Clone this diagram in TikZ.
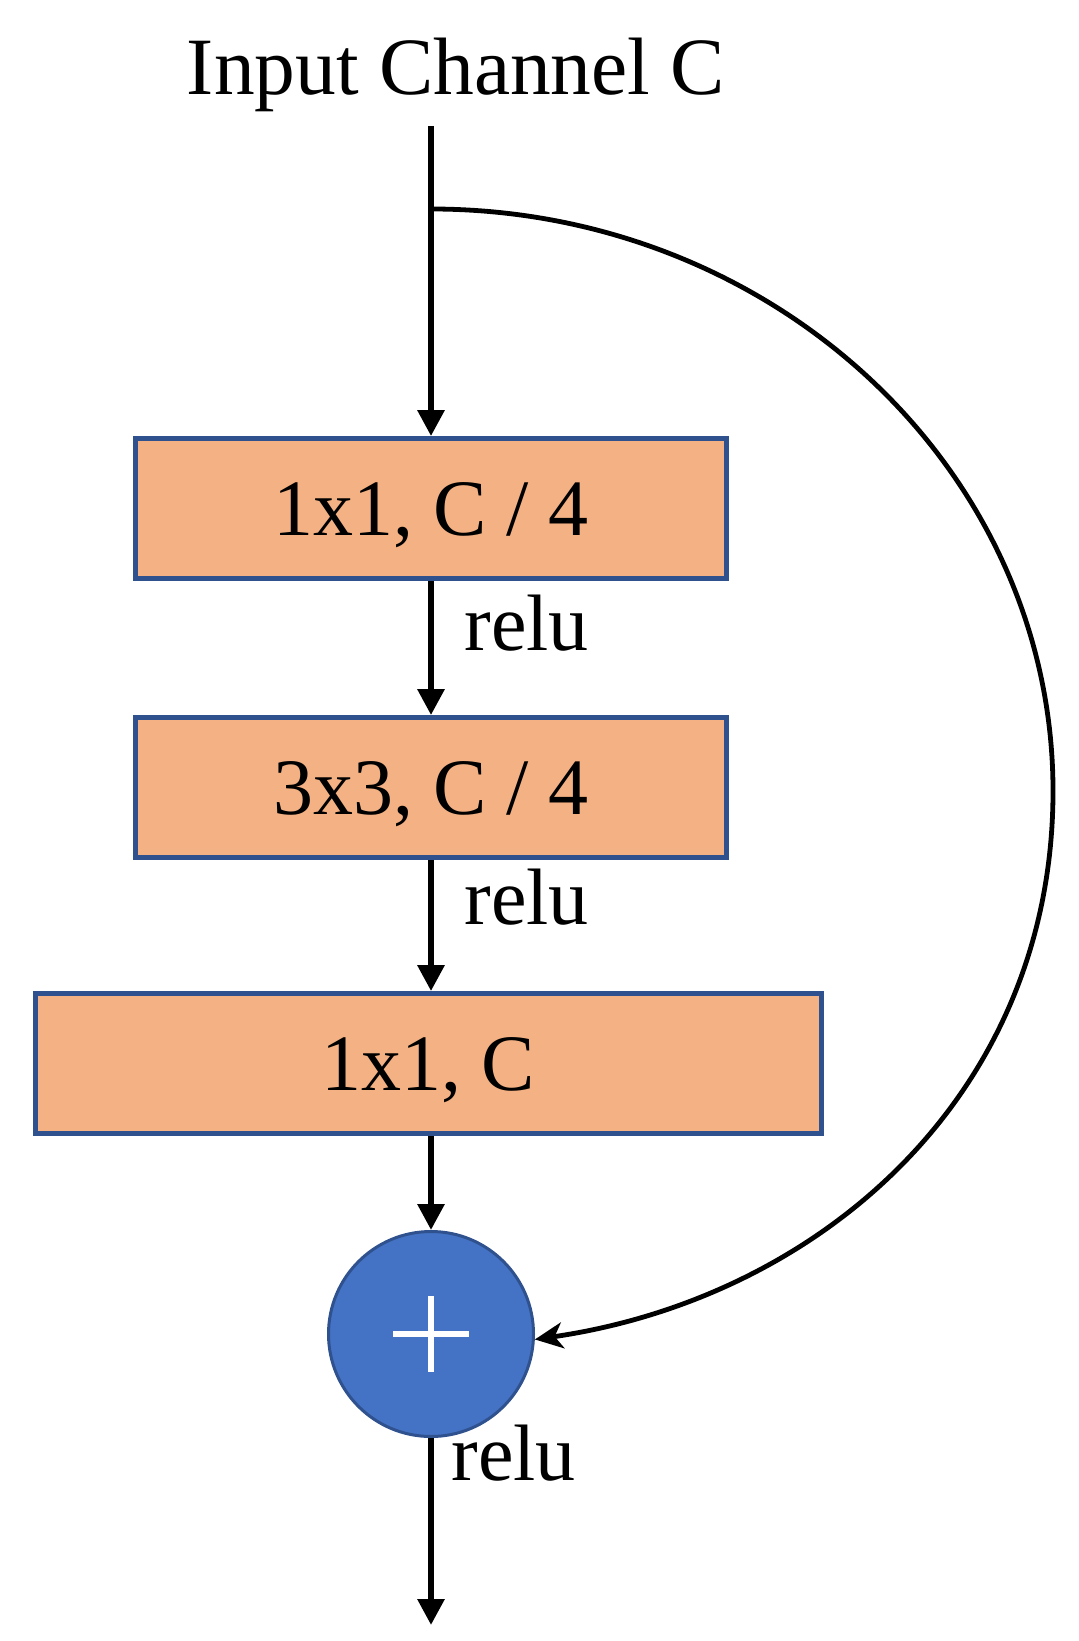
\documentclass[tikz,border=0pt]{standalone}
\usepackage{fontspec}
\setmainfont{Liberation Serif}
\usetikzlibrary{arrows.meta}
\definecolor{boxfill}{HTML}{F4B183}
\definecolor{boxline}{HTML}{2F528F}
\definecolor{sumfill}{HTML}{4472C4}
\begin{document}
\begin{tikzpicture}[x=0.5pt,y=-0.5pt,
  convbox/.style={draw=boxline,fill=boxfill,line width=2.4pt,inner sep=0pt,
    minimum height=70pt,font=\fontsize{40}{48}\selectfont,text height=27pt,text depth=0pt},
  flow/.style={line width=3pt,-{Triangle[length=13pt,width=13pt]}},
  skip/.style={line width=2.4pt,-{Stealth[length=14pt,width=13pt,inset=4pt]}},
  lbl/.style={inner sep=0pt,anchor=base west,font=\fontsize{40}{48}\selectfont},
  sumnode/.style={circle,draw=boxline,fill=sumfill,line width=1.5pt,inner sep=0pt,minimum size=102.5pt}]
\useasboundingbox (0,0) rectangle (1078,1641);
\node[inner sep=0pt,anchor=base,font=\fontsize{40.7}{50}\selectfont] (title) at (456,95) {Input Channel C};
\coordinate (in) at (431,126);
\coordinate (br) at (431,209);
\coordinate (rt) at (1053,791);
\coordinate (out) at (431,1625);
\node[convbox,minimum width=295.6pt] (b1) at (431,508.5) {1x1, C / 4};
\node[convbox,minimum width=295.6pt] (b2) at (431,787.5) {3x3, C / 4};
\node[convbox,minimum width=393.1pt] (b3) at (428.5,1063.5) {1x1, C};
\node[sumnode] (sum) at (431,1334) {};
\draw[white,line width=3.2pt] ([xshift=-19pt]sum.center) -- ([xshift=19pt]sum.center);
\draw[white,line width=3.2pt] ([yshift=19pt]sum.center) -- ([yshift=-19pt]sum.center);
\node[lbl] (r1) at (464,650) {relu};
\node[lbl] (r2) at (464,924) {relu};
\node[lbl] (r3) at (451,1480) {relu};
\draw[flow] (in) -- (b1.north);
\draw[flow] (b1.south) -- (b2.north);
\draw[flow] (b2.south) -- (b2.south |- b3.north);
\draw[flow] (b3.south -| sum.north) -- (sum.north);
\draw[flow] (sum.south) -- (out);
\draw[skip] (br) .. controls (774,209) and (1053,470) .. (rt)
  .. controls (1053,1095) and (820,1298) .. (sum.-3);
\end{tikzpicture}
\end{document}
